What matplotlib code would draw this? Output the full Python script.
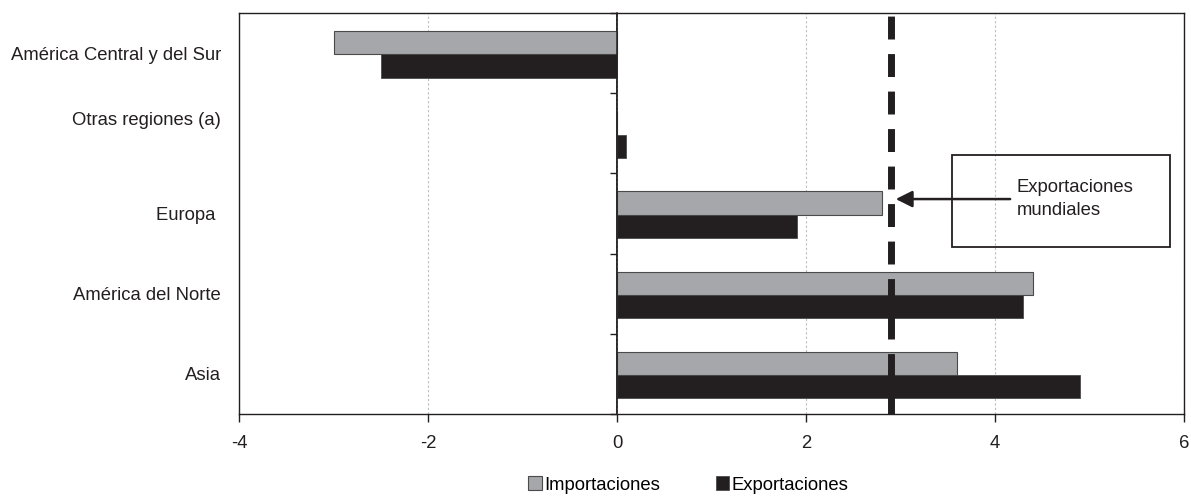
import matplotlib
matplotlib.use("Agg")
import matplotlib.pyplot as plt
from matplotlib.patches import Rectangle
import numpy as np

plt.rcParams['font.family'] = ['Liberation Sans', 'DejaVu Sans']

# Regions, listed top to bottom
regiones = ["América Central y del Sur", "Otras regiones (a)", "Europa ",
            "América del Norte", "Asia"]
importaciones = [-3.0, 0.0, 2.8, 4.4, 3.6]
exportaciones = [-2.5, 0.1, 1.9, 4.3, 4.9]
export_mundiales = 2.9
xticks = [-4, -2, 0, 2, 4, 6]

GRIS = '#a6a7aa'
NEGRO = '#231f20'
FS = 13.3

fig = plt.figure(figsize=(11.91, 4.96), dpi=100)
ax = fig.add_axes([239 / 1191, 1 - 414 / 496, (1184 - 239) / 1191, (414 - 13) / 496])

n = len(regiones)
y = np.arange(n)[::-1].astype(float)  # first region at top
h = 0.29

ax.barh(y + 0.13, importaciones, height=h, color=GRIS, edgecolor='#4a4a4a',
        linewidth=0.8, label='Importaciones', zorder=3)
ax.barh(y - 0.16, exportaciones, height=h, color=NEGRO, edgecolor='#4a4a4a',
        linewidth=0.6, label='Exportaciones', zorder=3)

ax.set_xlim(-4, 6)
ax.set_ylim(-0.5, n - 0.5)
ax.set_xticks(xticks)
ax.set_xticklabels([str(t) for t in xticks], fontsize=FS)
ax.tick_params(axis='x', direction='out', length=6, width=1.0, color=NEGRO, pad=9,
               labelcolor=NEGRO)
ax.xaxis.grid(True, linestyle=(0, (2, 2)), color='#bdbdbd', linewidth=0.8, zorder=0)

# Region labels; the label without imports sits a little higher
label_pos = y.copy()
label_pos[1] += 0.19
ax.set_yticks(label_pos)
ax.set_yticklabels(regiones, fontsize=FS, color=NEGRO)
ax.tick_params(axis='y', length=0, pad=13)

for s in ax.spines.values():
    s.set_color(NEGRO)
    s.set_linewidth(1.0)

# Vertical axis through zero with ticks between regions
ax.axvline(0, color=NEGRO, linewidth=1.1, zorder=5)
sec = ax.secondary_yaxis(0.4)
sec.set_yticks(np.arange(-0.5, n, 1.0))
sec.set_yticklabels([])
sec.tick_params(axis='y', direction='out', length=5, width=1.0, color=NEGRO)
sec.spines['left'].set_color(NEGRO)
sec.spines['left'].set_linewidth(1.1)

# World exports reference line
ax.axvline(export_mundiales, color=NEGRO, linewidth=5, linestyle=(0, (3.3, 2.1)),
           zorder=4, dash_capstyle='butt')

# Callout box with arrow
ax.add_patch(Rectangle((3.54, 1.58), 2.31, 1.15, fill=False, edgecolor=NEGRO,
                       linewidth=1.3, zorder=5))
ax.annotate('', xy=(export_mundiales + 0.05, 2.18), xytext=(4.16, 2.18),
            arrowprops=dict(arrowstyle='-|>,head_length=1.0,head_width=0.5',
                            color=NEGRO, lw=1.8, shrinkA=0, shrinkB=0), zorder=5)
ax.text(4.23, 2.18, 'Exportaciones\nmundiales', fontsize=FS, color=NEGRO,
        ha='left', va='center', linespacing=1.5, zorder=5)

fig.legend(loc='center', bbox_to_anchor=(0.578, 0.022), ncol=2, frameon=False,
           fontsize=FS, handlelength=0.75, handleheight=0.75, handletextpad=0.12,
           columnspacing=3.0)

fig.savefig('out.png', dpi=100, facecolor='white')
